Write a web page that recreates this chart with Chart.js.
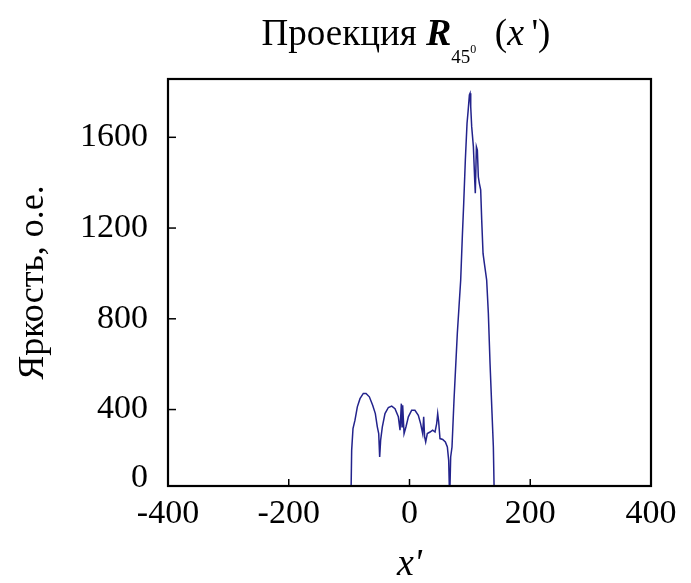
<!DOCTYPE html>
<html>
<head>
<meta charset="utf-8">
<script src="https://cdn.jsdelivr.net/npm/chart.js@4.4.1/dist/chart.umd.min.js"></script>
<style>
  body { margin: 0; background: #fff; }
  #wrap { width: 691px; height: 583px; }
</style>
</head>
<body>
<div id="wrap"><canvas id="chart"></canvas></div>
<script>
// profile
const xValues = [-97, -95.8, -93.6, -90.3, -86.4, -82, -76.5, -72, -66.5, -61, -56.6, -53.3, -51, -49.4, -47.8, -45,
    -40.6, -35, -29.5, -24, -18.5, -15.7, -13.5, -12.4, -11.3, -9, -5.8, -1.9, 3.6, 9, 14.6, 18.4, 21.8, 23.5, 25,
    26.8, 29.5, 34, 38.4, 42.3, 45, 46.7, 48.3, 50.5, 55, 59.4, 62.7, 64.9, 66.5, 68.2, 70.4, 73.7, 77, 79.2, 82,
    84.8, 87.6, 89.8, 92.5, 95.3, 97, 99.2, 100.3, 101.4, 103, 105.8, 108, 109, 110.8, 112.4, 114, 115.7, 117.9,
    119.6, 121.8, 124, 127.8, 130.6, 133.4, 136.7, 138.9, 140.5];
const yValues = [0, 220, 316, 353, 412, 448, 471, 471, 456, 419, 382, 324, 294, 191, 265, 324,
    382, 409, 415, 404, 368, 309, 426, 324, 419, 294, 324, 368, 397, 397, 375, 338, 294, 368, 280,
    257, 294, 301, 309, 301, 338, 382, 346, 272, 268, 257, 235, 176, 0, 191, 235, 441, 618, 735, 853,
    971, 1169, 1309, 1500, 1662, 1713, 1787, 1794, 1735, 1647, 1559, 1412, 1353, 1559, 1544, 1426, 1397, 1368,
    1235, 1088, 1044, 971, 824, 603, 382, 235, 0];

const xMin = -400, xMax = 400, xStep = 200;
const yMin = 63, yMax = 1857;
const yTickValues = [100, 400, 800, 1200, 1600];
const yTickLabels = ['0', '400', '800', '1200', '1600'];

const SERIF = '"Liberation Serif", "DejaVu Serif", serif';

const points = xValues.map((x, i) => ({ x: x, y: yValues[i] }));

const frameAndTicks = {
    id: 'frameAndTicks',
    afterDraw(chart) {
        const { ctx, chartArea: a, scales } = chart;
        ctx.save();
        ctx.strokeStyle = '#000';
        ctx.lineWidth = 1.5;
        scales.x.ticks.forEach(t => {
            const px = scales.x.getPixelForValue(t.value);
            ctx.beginPath();
            ctx.moveTo(px, a.bottom);
            ctx.lineTo(px, a.bottom - 7);
            ctx.stroke();
        });
        scales.y.ticks.forEach((t, i) => {
            if (i === 0) return; // bottom label sits on the axis, no mark
            const py = scales.y.getPixelForValue(t.value);
            ctx.beginPath();
            ctx.moveTo(a.left, py);
            ctx.lineTo(a.left + 8, py);
            ctx.stroke();
        });
        ctx.lineWidth = 2.2;
        ctx.strokeRect(a.left, a.top, a.right - a.left, a.bottom - a.top);
        ctx.restore();
    }
};

// title with italic R and sub/superscripts
const titlePlugin = {
    id: 'mathTitle',
    afterDraw(chart) {
        const ctx = chart.ctx;
        const parts = [
            { t: 'Проекция ', f: '37px ' + SERIF, dy: 0 },
            { t: 'R', f: 'italic bold 38px ' + SERIF, dy: 0 },
            { t: '45', f: '19px ' + SERIF, dy: 18 },
            { t: '0', f: '12px ' + SERIF, dy: 8 },
            { t: '  (', f: '37px ' + SERIF, dy: 0 },
            { t: 'x', f: 'italic 38px ' + SERIF, dy: 0 },
            { t: "\u2009')", f: '37px ' + SERIF, dy: 0 }
        ];
        ctx.save();
        ctx.fillStyle = '#000';
        ctx.textBaseline = 'alphabetic';
        let total = 0;
        parts.forEach(p => { ctx.font = p.f; p.w = ctx.measureText(p.t).width; total += p.w; });
        let x = 406 - total / 2;
        const base = 45;
        parts.forEach(p => {
            ctx.font = p.f;
            ctx.fillText(p.t, x, base + p.dy);
            x += p.w;
        });
        ctx.restore();
    }
};

const ctx = document.getElementById('chart').getContext('2d');
new Chart(ctx, {
    type: 'line',
    data: {
        datasets: [{
            data: points,
            borderColor: '#23238c',
            borderWidth: 1.5,
            pointRadius: 0,
            tension: 0,
            fill: false
        }]
    },
    options: {
        responsive: true,
        maintainAspectRatio: false,
        animation: false,
        layout: { padding: { top: 79, right: 40, left: 0, bottom: 0 } },
        plugins: {
            legend: { display: false },
            tooltip: { enabled: false }
        },
        scales: {
            x: {
                type: 'linear',
                min: xMin,
                max: xMax,
                grid: { display: false },
                border: { display: false },
                ticks: {
                    stepSize: xStep,
                    color: '#000',
                    padding: 0,
                    maxRotation: 0,
                    font: { family: SERIF, size: 34 }
                },
                title: {
                    display: true,
                    text: "x'",
                    color: '#000',
                    font: { family: SERIF, size: 38, style: 'italic' },
                    padding: { top: 0, bottom: -5 }
                },
                afterFit: scale => { scale.height = 97; }
            },
            y: {
                min: yMin,
                max: yMax,
                grid: { display: false },
                border: { display: false },
                afterBuildTicks: scale => {
                    scale.ticks = yTickValues.map(v => ({ value: v }));
                },
                ticks: {
                    color: '#000',
                    padding: 12,
                    font: { family: SERIF, size: 34 },
                    callback: (v, i) => yTickLabels[i]
                },
                title: {
                    display: true,
                    text: 'Яркость, о.е.',
                    color: '#000',
                    font: { family: SERIF, size: 36 },
                    padding: { top: 12, bottom: 0 }
                },
                afterFit: scale => { scale.width = 168; }
            }
        }
    },
    plugins: [frameAndTicks, titlePlugin]
});
</script>
</body>
</html>
